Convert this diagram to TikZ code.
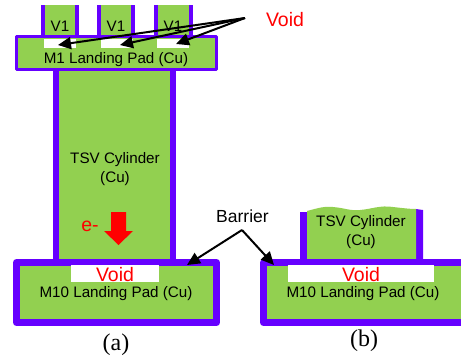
\documentclass[tikz,border=0pt]{standalone}
\usepackage{fontspec}
\setmainfont{Liberation Sans}
\newfontfamily\capfont{Liberation Serif}
\definecolor{cu}{HTML}{92D050}
\definecolor{barrier}{HTML}{6600FF}
\usetikzlibrary{arrows.meta}
\tikzset{
  metal/.style={fill=cu,draw=barrier,line join=round},
  voidbox/.style={fill=white,draw=none,inner sep=0pt},
  lbl/.style={font=\fontsize{15.2}{17}\selectfont,text=black,inner sep=0pt,align=center},
  voidlbl/.style={font=\fontsize{19.5}{21}\selectfont,text=red,inner sep=0pt},
  caplbl/.style={font=\capfont\fontsize{24}{26}\selectfont,inner sep=0pt},
  ptr/.style={draw=black,line width=2pt,-{Triangle[length=13pt,width=12pt]}}
}
\begin{document}
\begin{tikzpicture}[x=1pt,y=-1pt]
\useasboundingbox (0,0) rectangle (461,360);
\clip (0,0) rectangle (461,360);
% vias
\path[metal,line width=4pt] (43,5) -- (43,38) -- (77,38) -- (77,5);
\path[metal,line width=4pt] (99,5) -- (99,38) -- (133,38) -- (133,5);
\path[metal,line width=4pt] (156,5) -- (156,38) -- (191,38) -- (191,5);
% TSV (a)
\path[metal,line width=6pt] (56,68) rectangle (173,262);
% M1 pad
\path[metal,line width=3.5pt] (16.7,36.7) rectangle (216.3,69.5);
\fill[barrier] (53,68) rectangle (176,71);
\node[voidbox,minimum width=32pt,minimum height=9pt] (v1) at (60,43.5) {};
\node[voidbox,minimum width=32pt,minimum height=9pt] (v2) at (117,43.5) {};
\node[voidbox,minimum width=32pt,minimum height=9pt] (v3) at (173,43.5) {};
% M10 pad (a)
\path[metal,line width=7pt] (16.5,262.5) rectangle (216.5,322.5);
\node[voidbox,minimum width=88pt,minimum height=17pt] at (115,273.5) {};
% TSV (b)
\fill[barrier] (300,212) -- (307,212) -- (307,260) -- (416,260) -- (416,209) -- (423,210) -- (423,262) -- (300,262) -- cycle;
\fill[cu] (307,211) .. controls (318,208) and (325,206) .. (333,207)
  .. controls (345,208) and (350,211) .. (360,210)
  .. controls (372,209) and (380,205) .. (393,207)
  .. controls (402,208) and (410,209) .. (416,209) -- (416,260) -- (307,260) -- cycle;
% M10 pad (b)
\path[metal,line width=7pt] (263.5,262.5) rectangle (480,322.5);
\node[voidbox,minimum width=146pt,minimum height=17pt] at (361,273.5) {};
% labels
\node[lbl] at (60,26) {V1};
\node[lbl] at (116,26) {V1};
\node[lbl] at (173,26) {V1};
\node[lbl] at (116,60) {M1 Landing Pad (Cu)};
\node[lbl] at (115,159.5) {TSV Cylinder};
\node[lbl] at (115,178.5) {(Cu)};
\node[lbl] at (116,294) {M10 Landing Pad (Cu)};
\node[lbl] at (363,294) {M10 Landing Pad (Cu)};
\node[lbl] at (361,223) {TSV Cylinder};
\node[lbl] at (361,242) {(Cu)};
\node[voidlbl] at (115,275) {Void};
\node[voidlbl] at (361,275) {Void};
\node[voidlbl] (voidtop) at (285,20) {Void};
\node[voidlbl] at (90,226) {e-};
\node[lbl,font=\fontsize{17.5}{19}\selectfont] (barrier) at (242.5,216) {Barrier};
\node[caplbl] at (116,345) {(a)};
\node[caplbl] at (364,341) {(b)};
% e- arrow
\fill[red] (111,212) -- (126,212) -- (126,231) -- (133,231) -- (118.5,245) -- (104,231) -- (111,231) -- cycle;
% pointers
\coordinate (vs) at (245,18);
\coordinate (bs) at (242,230);
\coordinate (t1) at (58,45);
\coordinate (t2) at (120,45);
\coordinate (t3) at (176,44);
\coordinate (ta) at (187,265);
\coordinate (tb) at (274,265);
\draw[ptr] (vs) -- (t1);
\draw[ptr] (vs) -- (t2);
\draw[ptr] (vs) -- (t3);
\draw[ptr] (bs) -- (ta);
\draw[ptr] (bs) -- (tb);
\end{tikzpicture}
\end{document}
